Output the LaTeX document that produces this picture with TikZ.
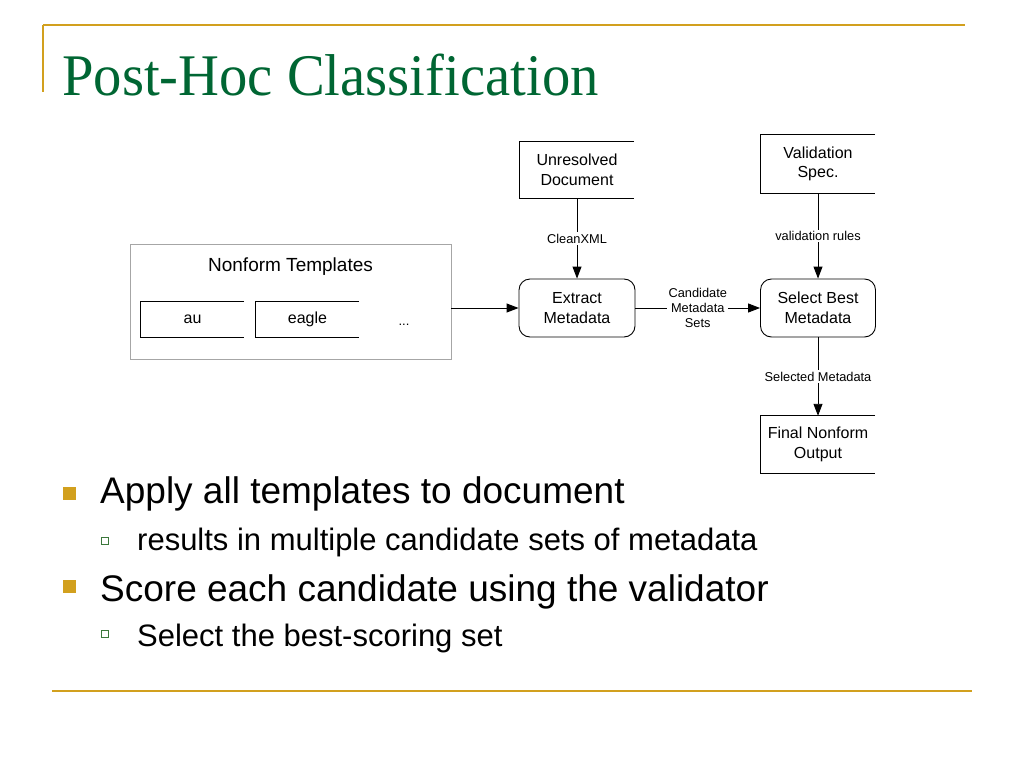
\documentclass[tikz,border=0pt]{standalone}
\usepackage{fontspec}
\setmainfont{Liberation Sans}
\newfontfamily\titlefont{Liberation Serif}
\usetikzlibrary{arrows.meta}
\definecolor{gold}{RGB}{210,160,30}
\definecolor{titlegreen}{RGB}{0,102,51}
\definecolor{subgreen}{RGB}{60,120,60}
\tikzset{
  boxtext/.style={font=\fontsize{16}{19.5}\selectfont, align=center, inner sep=0pt},
  openbox/.style={boxtext, minimum width=114pt, minimum height=57pt},
  procbox/.style={boxtext, draw, line width=0.9pt, rounded corners=11pt, minimum width=116pt, minimum height=58pt},
  tplbox/.style={boxtext, minimum width=103pt, minimum height=35pt},
  flow/.style={line width=0.9pt, -{Triangle[length=12pt,width=9pt]}},
  lbl/.style={font=\fontsize{12.8}{15.2}\selectfont, fill=white, align=center, inner sep=1.5pt},
  bigbullet/.style={font=\fontsize{37}{42}\selectfont, anchor=base west, inner sep=0pt},
  smallbullet/.style={font=\fontsize{31}{36}\selectfont, anchor=base west, inner sep=0pt},
}
\newcommand{\openright}[1]{\draw[line width=0.9pt] (#1.north east) -- (#1.north west) -- (#1.south west) -- (#1.south east);}
\begin{document}
\begin{tikzpicture}[x=1pt,y=-1pt]
\useasboundingbox (0,0) rectangle (1024,768);
% frame lines
\draw[gold, line width=2pt] (43,25) -- (965,25);
\draw[gold, line width=2pt] (43,25) -- (43,92);
\draw[gold, line width=2pt] (52,691) -- (972,691);
% title
\node[anchor=base west, inner sep=0pt, text=titlegreen, xscale=0.96, font=\titlefont\fontsize{59}{62}\selectfont] (title) at (62,95) {Post-Hoc Classification};
% diagram
\node[openbox] (unres) at (577,170) {Unresolved\\Document};
\openright{unres}
\node[openbox, minimum height=58pt] (valid) at (818,164) {Validation\\Spec.};
\openright{valid}
\node[openbox] (final) at (818,444.5) {Final Nonform\\Output};
\openright{final}
\node[procbox] (extract) at (577,308) {Extract\\Metadata};
\node[procbox, minimum width=115pt] (select) at (818,308) {Select Best\\Metadata};
\node[draw=gray!70, line width=0.8pt, minimum width=321pt, minimum height=115pt, inner sep=0pt] (tpl) at (290.5,301.5) {};
\node[font=\fontsize{19}{22}\selectfont, inner sep=0pt] (tpltitle) at (290.5,267) {Nonform Templates};
\node[tplbox] (au) at (192.5,319.5) {au};
\openright{au}
\node[tplbox] (eagle) at (307.5,319.5) {eagle};
\openright{eagle}
\node[boxtext, font=\fontsize{13}{15}\selectfont] (dots) at (404,325) {...};
% connectors
\draw[flow] (tpl.east |- extract.west) -- (extract.west);
\draw[flow] (unres.south) -- node[lbl] {CleanXML} (extract.north);
\draw[flow] (valid.south) -- node[lbl] {validation rules} (select.north);
\draw[flow] (extract.east) -- node[lbl] {Candidate\\Metadata\\Sets} (select.west);
\draw[flow] (select.south) -- node[lbl] {Selected Metadata} (final.north);
% bullets
\fill[gold] (63,487) rectangle (76,500);
\node[bigbullet] (b1) at (100,503) {Apply all templates to document};
\draw[subgreen, line width=0.9pt] (101,537) rectangle (108,544);
\node[smallbullet] (b2) at (137,550) {results in multiple candidate sets of metadata};
\fill[gold] (63,580) rectangle (76,593);
\node[bigbullet] (b3) at (100,601) {Score each candidate using the validator};
\draw[subgreen, line width=0.9pt] (101,630) rectangle (108,637);
\node[smallbullet] (b4) at (137,646) {Select the best-scoring set};
\end{tikzpicture}
\end{document}
